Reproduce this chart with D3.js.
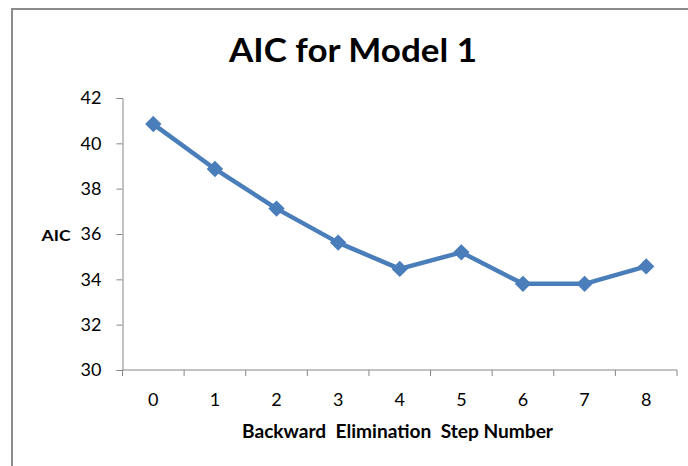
<!DOCTYPE html>
<html>
<head>
<meta charset="utf-8">
<script src="https://cdn.jsdelivr.net/npm/d3@7"></script>
<style>
  body { margin: 0; background: #fff; }
  text { font-family: Lato, "Open Sans", sans-serif; }
</style>
</head>
<body>
<div id="display"></div>
<script>
// chart data
const steps = [0, 1, 2, 3, 4, 5, 6, 7, 8];
const aic = [40.85, 38.87, 37.12, 35.62, 34.46, 35.19, 33.8, 33.8, 34.57];
const yTicks = [30, 32, 34, 36, 38, 40, 42];

const svg = d3.select('#display')
  .append('svg')
  .attr('width', 688)
  .attr('height', 466);

// outer frame (only left and top visible)
svg.append('path')
  .attr('d', 'M12,466 L12,9 L688,9')
  .attr('fill', 'none')
  .attr('stroke', '#8c8c8c')
  .attr('stroke-width', 2);

const plotLeft = 122.5, plotRight = 677, plotTop = 98, plotBottom = 370;

const x = d3.scaleBand()
  .domain(steps)
  .range([plotLeft, plotRight]);

const y = d3.scaleLinear()
  .domain([30, 42])
  .range([plotBottom, plotTop]);

// y axis
const yAxis = svg.append('g')
  .attr('transform', `translate(${plotLeft},0)`)
  .call(d3.axisLeft(y).tickValues(yTicks).tickSize(6).tickPadding(15));
yAxis.select('.domain').attr('stroke', '#868686');
yAxis.selectAll('.tick line').attr('stroke', '#868686');
yAxis.selectAll('.tick text')
  .style('font-size', '18px')
  .style('font-family', 'Lato, sans-serif')
  .attr('fill', '#000');

// x axis with ticks between categories
const xAxis = svg.append('g')
  .attr('transform', `translate(0,${plotBottom})`)
  .call(d3.axisBottom(x).tickSize(0).tickPadding(23));
xAxis.select('.domain').attr('stroke', '#868686').attr('d', `M${plotLeft},0H${plotRight}`);
xAxis.selectAll('.tick text')
  .style('font-size', '18px')
  .style('font-family', 'Lato, sans-serif')
  .attr('fill', '#000');

const edges = steps.map(s => x(s)).concat([plotRight]);
xAxis.selectAll('line.sep')
  .data(edges)
  .enter()
  .append('line')
  .attr('class', 'sep')
  .attr('x1', d => d)
  .attr('x2', d => d)
  .attr('y1', 0)
  .attr('y2', 6)
  .attr('stroke', '#868686');

// line
const line = d3.line()
  .x((d, i) => x(steps[i]) + x.bandwidth() / 2)
  .y(d => y(d));

svg.append('path')
  .datum(aic)
  .attr('d', line)
  .attr('fill', 'none')
  .attr('stroke', '#4a7ebb')
  .attr('stroke-width', 4.5)
  .attr('stroke-linejoin', 'round');

// diamond markers
svg.selectAll('path.marker')
  .data(aic)
  .enter()
  .append('path')
  .attr('class', 'marker')
  .attr('d', d3.symbol().type(d3.symbolDiamond2).size(130))
  .attr('transform', (d, i) => `translate(${x(steps[i]) + x.bandwidth() / 2},${y(d)})`)
  .attr('fill', '#4a7ebb')
  .attr('stroke', '#4a7ebb')
  .attr('stroke-width', 1.5);

// title
svg.append('text')
  .attr('x', 353)
  .attr('y', 62)
  .attr('text-anchor', 'middle')
  .attr('font-size', '33px')
  .attr('font-weight', 'bold')
  .attr('fill', '#000')
  .attr('textLength', 248)
  .attr('lengthAdjust', 'spacingAndGlyphs')
  .text('AIC for Model 1');

// axis titles
svg.append('text')
  .attr('x', 56)
  .attr('y', 241)
  .attr('text-anchor', 'middle')
  .attr('font-size', '16px')
  .attr('font-weight', 'bold')
  .attr('fill', '#000')
  .attr('textLength', 29)
  .attr('lengthAdjust', 'spacingAndGlyphs')
  .text('AIC');

svg.append('text')
  .attr('x', 397.5)
  .attr('y', 437.5)
  .attr('text-anchor', 'middle')
  .attr('font-size', '18px')
  .attr('font-weight', 'bold')
  .attr('fill', '#000')
  .attr('textLength', 311)
  .attr('lengthAdjust', 'spacingAndGlyphs')
  .style('white-space', 'pre')
  .text('Backward  Elimination  Step Number');
</script>
</body>
</html>
